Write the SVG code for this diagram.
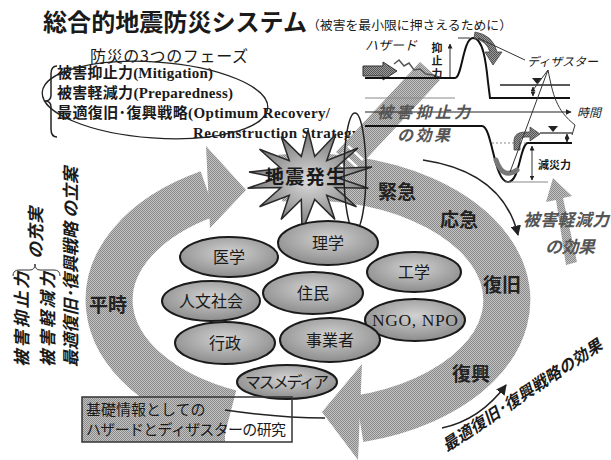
<svg xmlns="http://www.w3.org/2000/svg" width="611" height="460" viewBox="0 0 611 460">
  <style>
    .jp { font-family: "Noto Sans CJK JP", sans-serif; fill: #1a1a1a; }
    .mix { font-family: "Liberation Serif", "Noto Sans CJK JP", serif; fill: #1a1a1a; font-weight: 700; }
    .it { font-style: italic; }
    .b { font-weight: 700; }
    .gray { fill: #555; }
    .node ellipse { fill: url(#nodeFill); stroke: #1a1a1a; stroke-width: 2; }
    .node text { font-family: "Noto Sans CJK JP", sans-serif; font-size: 16px; fill: #1a1a1a; text-anchor: middle; }
    .phase { font-family: "Noto Sans CJK JP", sans-serif; font-size: 19px; font-weight: 700; fill: #222; text-anchor: middle; }
    .ln { fill: none; stroke: #222; stroke-width: 1.5; }
    .thin { fill: none; stroke: #333; stroke-width: 1; }
  </style>
  <defs>
    <pattern id="ht" width="2" height="2" patternUnits="userSpaceOnUse">
      <rect width="2" height="2" fill="#c2c2c2"/>
      <rect width="1" height="1" fill="#8a8a8a"/>
      <rect x="1" y="1" width="1" height="1" fill="#8a8a8a"/>
    </pattern>
    <pattern id="htDark" width="2" height="2" patternUnits="userSpaceOnUse">
      <rect width="2" height="2" fill="#9a9a9a"/>
      <rect width="1" height="1" fill="#555"/>
      <rect x="1" y="1" width="1" height="1" fill="#555"/>
    </pattern>
    <radialGradient id="nodeFill" cx="50%" cy="40%" r="60%">
      <stop offset="0" stop-color="#d2d2d2"/>
      <stop offset="1" stop-color="#8c8c8c"/>
    </radialGradient>
    <radialGradient id="starFill" cx="50%" cy="50%" r="55%">
      <stop offset="0" stop-color="#dcdcdc"/>
      <stop offset="1" stop-color="#6a6a6a"/>
    </radialGradient>
    <marker id="ah" viewBox="0 0 10 10" refX="9" refY="5" markerWidth="7" markerHeight="7" orient="auto-start-reverse">
      <path d="M0,0 L10,5 L0,10 Z" fill="#222"/>
    </marker>
    <marker id="ahs" viewBox="0 0 10 10" refX="9" refY="5" markerWidth="5" markerHeight="5" orient="auto-start-reverse">
      <path d="M0,0 L10,5 L0,10 Z" fill="#222"/>
    </marker>
  </defs>

  <rect width="611" height="460" fill="#fff"/>

  <!-- title -->
  <text class="jp b" x="43" y="31" font-size="24" textLength="264" lengthAdjust="spacingAndGlyphs">総合的地震防災システム</text>
  <text class="jp" x="307" y="30" font-size="12.5" textLength="205" lengthAdjust="spacingAndGlyphs">（被害を最小限に押さえるために）</text>

  <!-- the three phases of disaster management -->
  <g id="phases">
    <text class="jp" x="90" y="62" font-size="16" textLength="158">防災の3つのフェーズ</text>
    <path class="ln" d="M57,66 Q51,66 51,74 L51,95 Q51,101 45,101 Q51,101 51,107 L51,129 Q51,137 57,137"/>
    <text class="mix" x="57" y="78" font-size="15" textLength="156">被害抑止力(Mitigation)</text>
    <text class="mix" x="57" y="98" font-size="15" textLength="176">被害軽減力(Preparedness)</text>
    <text class="mix" x="57" y="118" font-size="15" textLength="273">最適復旧･復興戦略(Optimum Recovery/</text>
    <text class="mix" x="193" y="138" font-size="15" textLength="172">Reconstruction Strategy)</text>
    <ellipse cx="155" cy="100" rx="113" ry="38" transform="rotate(4 155 100)" fill="none" stroke="#222" stroke-width="1.3"/>
  </g>

  <!-- disaster cycle: the big halftone ring -->
  <g id="connectors">
    <path id="cycle-normal" d="M230.3,413.2 A199,123 0 0 1 208.5,193.5" fill="none" stroke="url(#ht)" stroke-width="47"/>
    <polygon points="206,146 246,190 210,228" fill="url(#ht)"/>
    <path id="cycle-response" d="M280.3,178.2 A199,123 0 0 1 359.5,418.8" fill="none" stroke="url(#ht)" stroke-width="47"/>
    <polygon points="362,364 322,412 358,460" fill="url(#ht)"/>

    <!-- effect of mitigation: diagonal arrow into the graph -->
    <polygon points="336,152 420,62 440,80 356,170" fill="url(#ht)"/>
    <g stroke="#fff" stroke-width="2.5">
      <line x1="336" y1="160" x2="351" y2="174"/>
      <line x1="342" y1="153" x2="357" y2="167"/>
      <line x1="348" y1="146" x2="363" y2="160"/>
    </g>

    <!-- effect of preparedness: arrow up into the graph -->
    <polygon points="566,265 556,200 546,202 553,178 572,196 563,198 577,262" fill="url(#ht)"/>

    <!-- response curve arrow -->
    <path class="ln" d="M423,160 Q503,172 518,235" marker-end="url(#ah)"/>
    <!-- recovery strategy effect arrow -->
    <path class="ln" d="M442,428 Q480,420 506,385" marker-end="url(#ah)"/>
    <!-- link from research box -->
    <path class="ln" d="M225,410 Q280,418 325,418"/>
  </g>

  <!-- hazard / disaster graph -->
  <g id="graph">
    <text class="jp it" x="365" y="50" font-size="13">ハザード</text>
    <polygon points="363,66 383,66 383,62 397,71 383,80 383,76 363,76" fill="url(#htDark)" stroke="#333" stroke-width="1"/>
    <path d="M394,64 L399,60 L404,66 L409,63 L414,70 L420,69 L426,74 L433,75 L442,78" fill="none" stroke="#555" stroke-width="1.5"/>
    <path d="M365,78 L455,78 C462,78 463,38 473,38 C483,38 486,62 488,82 L490,98 L570,98" fill="none" stroke="#111" stroke-width="2"/>
    <line x1="458" y1="38" x2="470" y2="38" class="thin"/>
    <line x1="450" y1="77" x2="450" y2="44" class="thin" marker-end="url(#ahs)"/>
    <text class="jp b" x="437" y="42" font-size="11" writing-mode="vertical-rl" letter-spacing="2">抑止力</text>
    <path d="M475,32 Q493,35 497,52 L502,52 L493,65 L485,52 L490,52 Q487,41 474,38 Z" fill="url(#htDark)" stroke="#444" stroke-width="0.8"/>

    <line x1="365" y1="98" x2="455" y2="98" stroke="#888" stroke-width="1"/>
    <line x1="500" y1="85" x2="570" y2="85" stroke="#222" stroke-width="1.5"/>
    <polygon points="532,78 542,78 537,84" fill="#222"/>
    <line x1="533" y1="87" x2="533" y2="96" class="thin" marker-start="url(#ahs)" marker-end="url(#ahs)"/>

    <line x1="365" y1="112" x2="571" y2="112" stroke="#222" stroke-width="1.2" marker-end="url(#ahs)"/>
    <text class="jp it" x="577" y="117" font-size="12">時間</text>

    <path d="M365,126 L482,126 C492,126 494,182 508,182 C520,182 520,143 528,143 L572,143" fill="none" stroke="#111" stroke-width="2"/>
    <line x1="492" y1="143" x2="526" y2="143" stroke="#888" stroke-width="1" stroke-dasharray="2,2"/>
    <line x1="540" y1="133" x2="572" y2="133" stroke="#222" stroke-width="1.2"/>
    <polygon points="548,126 558,126 553,132" fill="#222"/>
    <line x1="567" y1="134" x2="567" y2="142" class="thin" marker-start="url(#ahs)" marker-end="url(#ahs)"/>
    <line x1="505" y1="182" x2="548" y2="182" stroke="#888" stroke-width="1"/>
    <line x1="532" y1="146" x2="532" y2="180" class="thin" marker-start="url(#ahs)" marker-end="url(#ahs)"/>
    <text class="jp b" x="538" y="169" font-size="11">減災力</text>
    <path d="M496,160 Q503,180 517,170" fill="none" stroke="#777" stroke-width="5" stroke-linecap="round"/>
    <path d="M514,150 L514,140 Q515,132 525,132 L530,132 L530,127 L540,134 L530,141 L530,137 L525,137 Q520,137 520,142 L520,150 Z" fill="url(#htDark)" stroke="#444" stroke-width="0.8"/>

    <text class="jp it" x="527" y="66" font-size="12">ディザスター</text>
    <line x1="478" y1="38" x2="525" y2="60" class="thin"/>
    <path d="M548,70 L533,90 M548,70 L510,172 M548,70 C553,95 556,110 575,125 L572,135" class="thin"/>

    <text class="jp it b gray" x="377" y="118" font-size="16" textLength="93">被害抑止力</text>
    <text class="jp it b gray" x="397" y="141" font-size="16" textLength="53">の効果</text>
    <text class="jp it b gray" x="523" y="226" font-size="17" textLength="86">被害軽減力</text>
    <text class="jp it b gray" x="545" y="253" font-size="17" textLength="50">の効果</text>
  </g>

  <!-- earthquake burst -->
  <g id="quake">
    <polygon points="308,130 314.7,156.6 336,134 326.7,160.8 358,148 335,168.5 372,167 338,178 368.4,188.2 335,187.5 356.5,206.7 326.7,195.2 334.9,219.4 314.7,199.4 302,232 301.3,199.4 281.1,219.4 289.3,195.2 259.5,206.7 281,187.5 247.6,188.2 278,178 249,172 281,168.5 259.5,149.3 289.3,160.8 281.1,136.6 301.3,156.6" fill="url(#starFill)" stroke="#2a2a2a" stroke-width="1.5"/>
    <text class="jp b" x="305" y="184" font-size="19" text-anchor="middle" textLength="80">地震発生</text>
  </g>
  <ellipse cx="355" cy="172" rx="11" ry="59" fill="none" stroke="#222" stroke-width="1.5"/>

  <!-- phase labels on the ring -->
  <text class="phase" x="397" y="199">緊急</text>
  <text class="phase" x="459" y="227">応急</text>
  <text class="phase" x="502" y="292">復旧</text>
  <text class="phase" x="471" y="381">復興</text>
  <text class="phase" x="108" y="312">平時</text>

  <!-- actors -->
  <g id="n-igaku" class="node"><ellipse cx="229" cy="257" rx="49" ry="20"/><text x="229" y="263">医学</text></g>
  <g id="n-rigaku" class="node"><ellipse cx="328" cy="243" rx="50" ry="22"/><text x="328" y="249">理学</text></g>
  <g id="n-kogaku" class="node"><ellipse cx="414" cy="272" rx="47" ry="20"/><text x="414" y="278">工学</text></g>
  <g id="n-jinbun" class="node"><ellipse cx="211" cy="301" rx="49" ry="20"/><text x="211" y="307">人文社会</text></g>
  <g id="n-jumin" class="node"><ellipse cx="313" cy="293" rx="50" ry="21"/><text x="313" y="299">住民</text></g>
  <g id="n-ngo" class="node"><ellipse cx="415" cy="320" rx="50" ry="21"/><text x="415" y="326" style="font-family:'Liberation Serif','Noto Sans CJK JP',serif;font-size:17.5px" textLength="86">NGO, NPO</text></g>
  <g id="n-gyosei" class="node"><ellipse cx="225" cy="343" rx="50" ry="21"/><text x="225" y="349">行政</text></g>
  <g id="n-jigyo" class="node"><ellipse cx="330" cy="340" rx="50" ry="22"/><text x="330" y="346">事業者</text></g>
  <g id="n-media" class="node"><ellipse cx="287" cy="382" rx="50" ry="17"/><text x="287" y="388" textLength="84">マスメディア</text></g>

  <!-- research box -->
  <g id="research">
    <rect x="82" y="397" width="143" height="45" fill="url(#ht)"/>
    <rect x="82" y="397" width="210" height="45" fill="none" stroke="#333" stroke-width="1.5"/>
    <text class="jp" x="86" y="415" font-size="15">基礎情報としての</text>
    <text class="jp" x="86" y="435" font-size="15" textLength="200">ハザードとディザスターの研究</text>
  </g>

  <!-- recovery strategy effect label -->
  <text class="jp it b" x="447" y="452" font-size="16" textLength="188" transform="rotate(-33.6 447 452)">最適復旧･復興戦略の効果</text>

  <!-- left side: rotated texts -->
  <g id="enhance">
    <text class="jp it b" font-size="17" transform="translate(27.5,367) rotate(-90)" textLength="95">被害抑止力</text>
    <text class="jp it b" font-size="17" transform="translate(53.5,367) rotate(-90)" textLength="95">被害軽減力</text>
    <text class="jp it b" font-size="17" transform="translate(76.5,367) rotate(-90)" textLength="200">最適復旧･復興戦略 の立案</text>
    <text class="jp it b" font-size="17" transform="translate(41.5,259) rotate(-90)" textLength="52">の充実</text>
    <path class="thin" d="M13,276 Q13,270 19,270 L30,270 Q35,270 35,264 Q35,270 40,270 L54,270 Q60,270 60,276"/>
  </g>
</svg>
